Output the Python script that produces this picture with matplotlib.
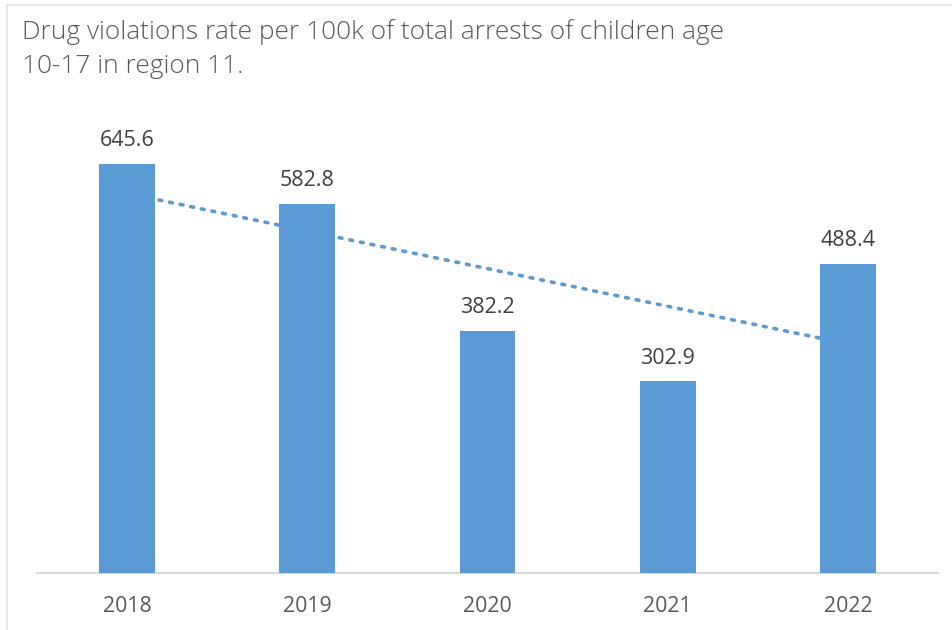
import matplotlib.pyplot as plt
import numpy as np

# Drug violation rates per 100k arrests, children 10-17, region 11
years = ['2018', '2019', '2020', '2021', '2022']
rates = [645.6, 582.8, 382.2, 302.9, 488.4]

title = 'Drug violations rate per 100k of total arrests of children age\n10-17 in region 11.'

bar_color = '#5B9BD5'
text_grey = '#595959'

plt.rcParams['font.family'] = ['Open Sans', 'DejaVu Sans']

fig = plt.figure(figsize=(9.52, 6.30), dpi=100)

# chart-area border (left and top edges visible)
fig.add_artist(plt.Line2D([7 / 952, 7 / 952], [0, 1 - 5 / 630], color='#E3E3E3', lw=1.2))
fig.add_artist(plt.Line2D([7 / 952, 1], [1 - 5 / 630, 1 - 5 / 630], color='#E3E3E3', lw=1.2))

fig.text(22 / 952, 1 - 19 / 630, title, ha='left', va='top', fontsize=18.9,
         color=text_grey, fontweight='light', linespacing=1.5)

ax = fig.add_axes([37 / 952, 1 - 573 / 630, 901 / 952, (573 - 129.5) / 630])
x = np.arange(len(years))
ax.bar(x, rates, width=0.31, color=bar_color, zorder=3)

# linear trendline behind the bars
slope, intercept = np.polyfit(x, rates, 1)
ax.plot(x, slope * x + intercept, linestyle=(0, (0.8, 2.2)), color=bar_color,
        lw=2.6, dash_capstyle='round', zorder=2)

for xi, v in zip(x, rates):
    ax.annotate(f'{v:.1f}', (xi, v), xytext=(0, 9), textcoords='offset points',
                ha='center', va='bottom', fontsize=15.5, color='#404040')

ax.set_xlim(-0.5, len(years) - 0.5)
ax.set_ylim(0, 700)
ax.set_xticks(x)
ax.set_xticklabels(years, fontsize=15.3, color=text_grey)
ax.tick_params(axis='x', length=0, pad=16.5)
ax.set_yticks([])
for side in ['top', 'right', 'left']:
    ax.spines[side].set_visible(False)
ax.spines['bottom'].set_color('#D9D9D9')
ax.spines['bottom'].set_linewidth(1.5)

fig.savefig('out.png', dpi=100, facecolor='white')
